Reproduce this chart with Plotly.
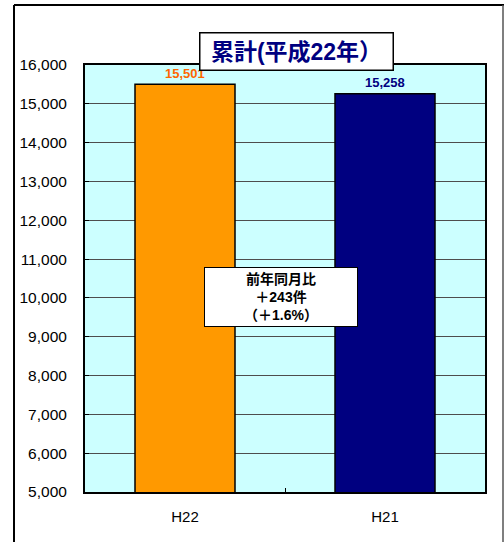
import plotly.graph_objects as go

categories = ["H22", "H21"]
values = [15501, 15258]
value_labels = ["15,501", "15,258"]
bar_colors = ["#FF9900", "#000080"]
label_colors = ["#FF6600", "#000080"]
y_ticks = list(range(5000, 16001, 1000))
y_tick_labels = [f"{v:,}" for v in y_ticks]
title_text = "累計(平成22年）"
note_lines = ["前年同月比", "＋243件", "（＋1.6%）"]

W, H = 504, 542
L, R, T, B = 85, 19, 65, 50
pw, ph = W - L - R, H - T - B

def px2paper_x(px):
    return (px - L) / pw

def px2paper_y(py):
    return (H - B - py) / ph

fig = go.Figure()
fig.add_trace(go.Bar(
    x=categories, y=values,
    marker=dict(color=bar_colors, line=dict(color="#000000", width=1.5)),
    width=0.5, hoverinfo="skip",
))

annotations = []
for c, v, t, col in zip(categories, values, value_labels, label_colors):
    annotations.append(dict(
        x=c, y=v, text=f"<b>{t}</b>", showarrow=False, yshift=11,
        font=dict(family="Liberation Sans, Arial", size=13, color=col),
    ))

annotations.append(dict(
    x=0.5, y=px2paper_y(32), xref="paper", yref="paper",
    xshift=11,
    text=f"<b>{title_text}</b>", showarrow=False,
    font=dict(family="Liberation Sans, Noto Sans CJK JP", size=23, color="#000080"),
    bgcolor="#FFFFFF", bordercolor="#000000", borderwidth=1.5,
    width=190, height=34, borderpad=1,
))

annotations.append(dict(
    x=px2paper_x(281), y=px2paper_y(297), xref="paper", yref="paper",
    text="<br>".join(f"<b>{s}</b>" for s in note_lines), showarrow=False,
    font=dict(family="Liberation Sans, Noto Sans CJK JP", size=14, color="#000000"),
    bgcolor="#FFFFFF", bordercolor="#000000", borderwidth=1,
    width=150, height=56, borderpad=1, align="center",
))

shapes = [
    dict(type="line", xref="paper", yref="paper",
         x0=px2paper_x(14), x1=px2paper_x(14), y0=px2paper_y(5), y1=px2paper_y(545),
         line=dict(color="#000000", width=2)),
    dict(type="line", xref="paper", yref="paper",
         x0=px2paper_x(14), x1=px2paper_x(504), y0=px2paper_y(5), y1=px2paper_y(5),
         line=dict(color="#000000", width=2)),
    dict(type="line", xref="paper", yref="paper",
         x0=px2paper_x(503), x1=px2paper_x(503), y0=px2paper_y(5), y1=px2paper_y(545),
         line=dict(color="#555555", width=1.5)),
]

fig.update_layout(
    width=W, height=H,
    margin=dict(l=L, r=R, t=T, b=B, pad=0),
    paper_bgcolor="#FFFFFF", plot_bgcolor="#CCFFFF",
    showlegend=False, bargap=0.5,
    annotations=annotations, shapes=shapes,
    font=dict(family="Liberation Sans, Arial", color="#000000"),
)
fig.update_xaxes(
    showline=True, linecolor="#000000", linewidth=2, mirror=True,
    showgrid=False, ticks="inside", tickson="boundaries", ticklen=4,
    tickcolor="#000000", tickfont=dict(size=15, color="#000000"),
    ticklabelstandoff=10,
)
fig.update_yaxes(
    range=[5000, 16000], tickvals=y_ticks, ticktext=y_tick_labels,
    showline=True, linecolor="#000000", linewidth=2, mirror=True,
    showgrid=True, gridcolor="#4D4D4D", gridwidth=1,
    ticks="inside", ticklen=4, tickcolor="#000000",
    tickfont=dict(size=15.5, color="#000000"), ticklabelstandoff=13,
)

fig.write_html(
    "out.html",
    config={"displayModeBar": False},
    post_script="document.body.style.margin='0';document.body.style.padding='0';",
)
